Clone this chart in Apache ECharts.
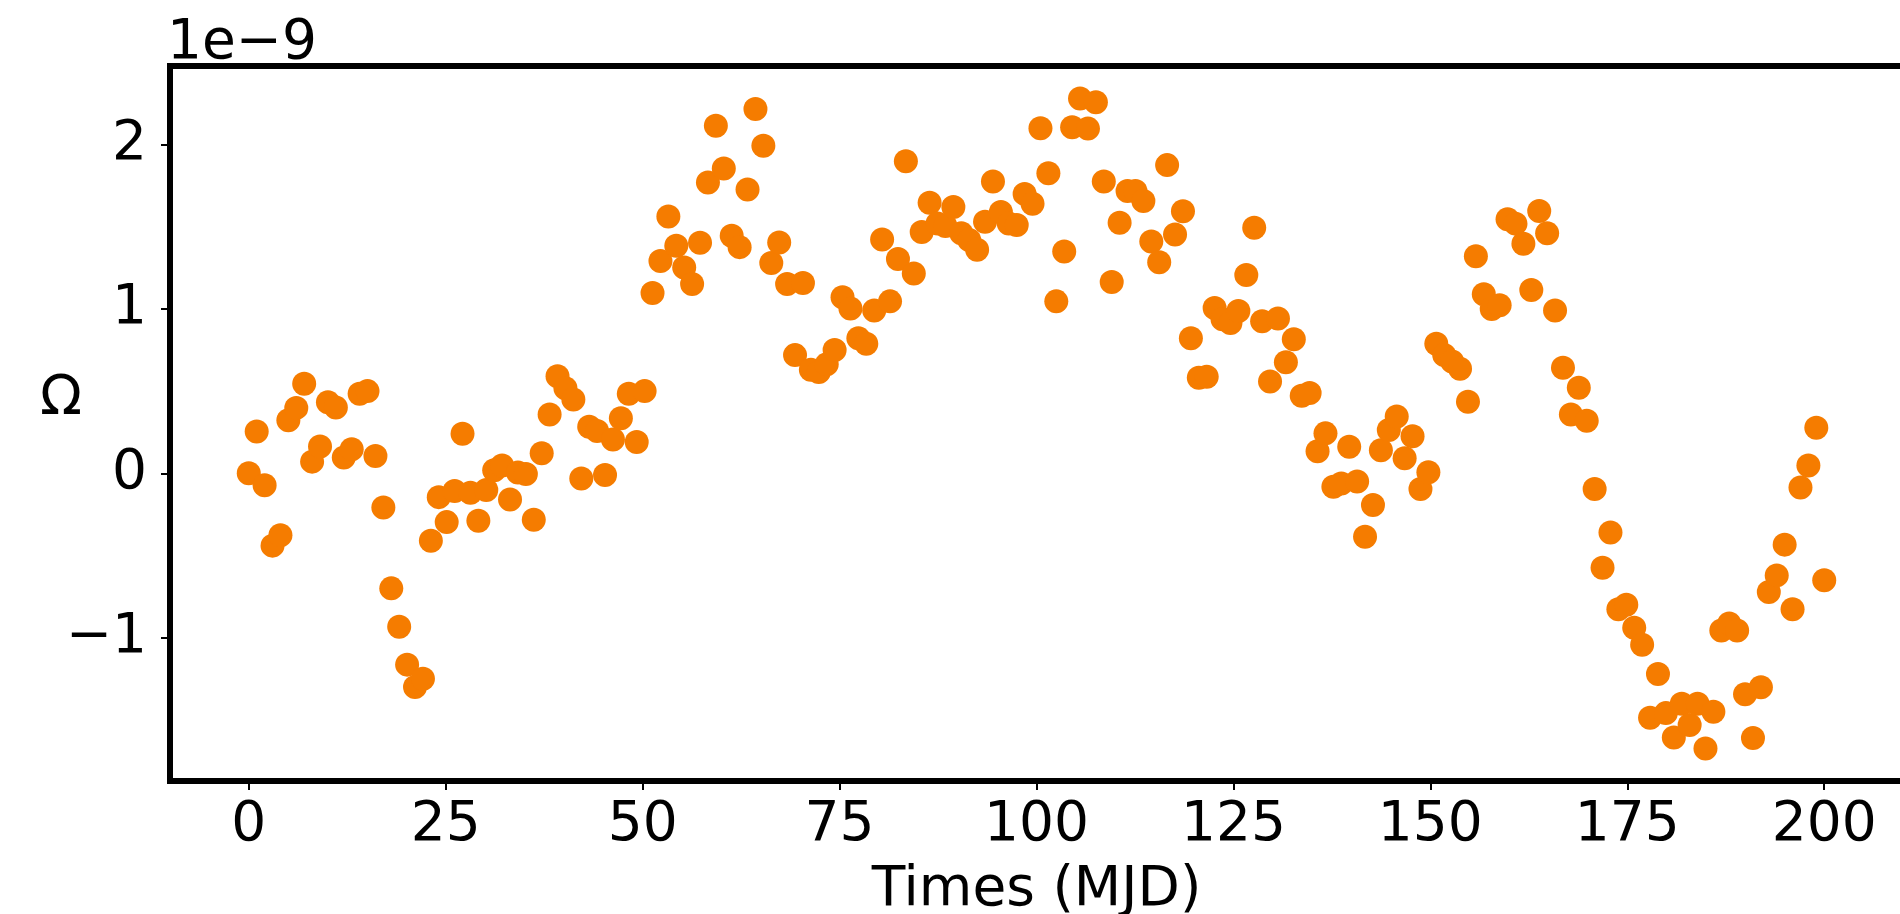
<!DOCTYPE html>
<html>
<head>
<meta charset="utf-8">
<script src="https://cdn.jsdelivr.net/npm/echarts@6/dist/echarts.min.js"></script>
<style>
  html, body { margin: 0; padding: 0; background: #ffffff; }
  #chart { width: 1900px; height: 914px; }
</style>
</head>
<body>
<div id="chart"></div>
<script>
// Omega residuals, in units of 1e-9, one per epoch
const omega = [
  0.0, 0.254, -0.073, -0.44, -0.377, 0.323, 0.398, 0.545, 0.071, 0.163,
  0.432, 0.40, 0.096, 0.146, 0.484, 0.50, 0.105, -0.208, -0.70, -0.934,
  -1.164, -1.30, -1.25, -0.41, -0.145, -0.297, -0.107, 0.24, -0.119, -0.288,
  -0.101, 0.019, 0.048, -0.159, 0.005, -0.004, -0.282, 0.122, 0.358, 0.59,
  0.518, 0.449, -0.032, 0.283, 0.258, -0.01, 0.205, 0.335, 0.484, 0.19,
  0.50, 1.097, 1.292, 1.562, 1.384, 1.252, 1.152, 1.402, 1.769, 2.114,
  1.855, 1.445, 1.376, 1.726, 2.217, 1.993, 1.28, 1.404, 1.152, 0.719,
  1.158, 0.63, 0.616, 0.664, 0.75, 1.071, 1.003, 0.822, 0.788, 0.99,
  1.422, 1.046, 1.304, 1.898, 1.215, 1.468, 1.646, 1.52, 1.505, 1.62,
  1.46, 1.42, 1.36, 1.53, 1.775, 1.59, 1.52, 1.51, 1.70, 1.64,
  2.099, 1.826, 1.046, 1.35, 2.105, 2.28, 2.097, 2.257, 1.775, 1.164,
  1.525, 1.717, 1.717, 1.657, 1.41, 1.284, 1.875, 1.453, 1.594, 0.822,
  0.581, 0.587, 1.006, 0.937, 0.914, 0.987, 1.207, 1.494, 0.925, 0.558,
  0.942, 0.675, 0.816, 0.472, 0.489, 0.134, 0.243, -0.082, -0.062, 0.162,
  -0.05, -0.386, -0.193, 0.14, 0.263, 0.346, 0.091, 0.226, -0.096, 0.007,
  0.788, 0.72, 0.68, 0.636, 0.435, 1.32, 1.09, 1.0, 1.023, 1.545,
  1.519, 1.396, 1.115, 1.596, 1.46, 0.991, 0.642, 0.358, 0.521, 0.32,
  -0.096, -0.575, -0.36, -0.827, -0.80, -0.94, -1.043, -1.487, -1.221, -1.459,
  -1.608, -1.402, -1.531, -1.402, -1.674, -1.451, -0.957, -0.914, -0.957, -1.344,
  -1.611, -1.301, -0.722, -0.621, -0.434, -0.827, -0.087, 0.048, 0.277, -0.65
];

// Epochs are evenly spaced from the first to the last time
const timeStart = 0;
const timeEnd = 200;

const xTicks = [0, 25, 50, 75, 100, 125, 150, 175, 200];
const yTicks = [-1, 0, 1, 2];

const xLabel = 'Times (MJD)';
const yLabel = 'Ω';
const offsetLabel = '1e\u22129';

const times = omega.map((_, i) => timeStart + (timeEnd - timeStart) * i / (omega.length - 1));
const points = times.map((t, i) => [t, omega[i]]);

const FONT = 'DejaVu Sans';
const FS = 55;
const minusFmt = v => (v < 0 ? '\u2212' + Math.abs(v) : String(v));

const chart = echarts.init(document.getElementById('chart'), null, { renderer: 'canvas' });
chart.setOption({
  animation: false,
  backgroundColor: '#ffffff',
  grid: {
    left: 170, top: 66, width: 1733, height: 715,
    show: true, borderColor: '#000000', borderWidth: 6,
    containLabel: false, outerBoundsMode: 'none'
  },
  xAxis: {
    type: 'value', min: -10, max: 210, position: 'bottom',
    axisLine: { show: false, onZero: false },
    splitLine: { show: false },
    axisTick: { show: true, length: 9, lineStyle: { color: '#000', width: 2 }, customValues: xTicks },
    axisLabel: { show: true, margin: 17, fontFamily: FONT, fontSize: FS, color: '#000', customValues: xTicks, formatter: minusFmt },
    name: xLabel, nameLocation: 'middle', nameGap: 82,
    nameTextStyle: { fontFamily: FONT, fontSize: FS, color: '#000' }
  },
  yAxis: {
    type: 'value', min: -1.872, max: 2.478, position: 'left',
    axisLine: { show: false, onZero: false },
    splitLine: { show: false },
    axisTick: { show: true, length: 9, lineStyle: { color: '#000', width: 2 }, customValues: yTicks },
    axisLabel: { show: true, margin: 23, fontFamily: FONT, fontSize: FS, color: '#000', customValues: yTicks, formatter: minusFmt, padding: [10, 0, 0, 0] }
  },
  graphic: [
    { type: 'text', left: 167, top: 16, style: { text: offsetLabel, font: FS + 'px "' + FONT + '"', fill: '#000' } },
    { type: 'text', x: 61, y: 400, style: { text: yLabel, font: FS + 'px "' + FONT + '"', fill: '#000', align: 'center', verticalAlign: 'middle' } }
  ],
  series: [{
    type: 'scatter',
    data: points,
    symbol: 'circle',
    symbolSize: 24,
    itemStyle: { color: '#f57c00', opacity: 1 },
    emphasis: { disabled: true }
  }]
});
</script>
</body>
</html>
